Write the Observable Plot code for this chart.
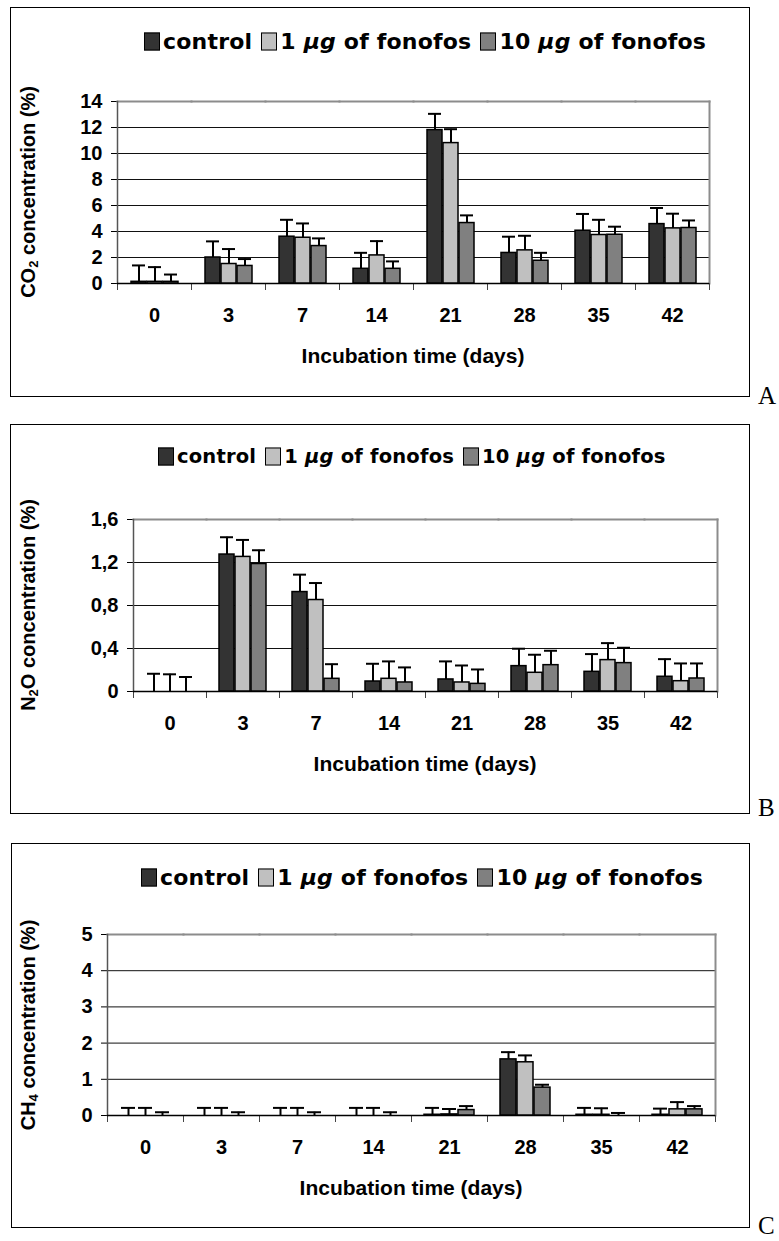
<!DOCTYPE html>
<html><head><meta charset="utf-8">
<script src="https://cdn.jsdelivr.net/npm/d3@7"></script>
<script src="https://cdn.jsdelivr.net/npm/@observablehq/plot@0.6"></script>
<style>
body{margin:0;background:#fff;width:779px;height:1241px;position:relative;overflow:hidden;font-family:"Liberation Sans",Arial,sans-serif;color:#000}
.box{position:absolute;border:1.5px solid #000;box-sizing:border-box}
.legend{position:absolute;display:flex;align-items:center;white-space:nowrap;font-family:"DejaVu Sans",sans-serif;font-weight:bold;font-size:22px;transform:translateY(-50%);letter-spacing:0.2px}
.sw{display:inline-block;width:14px;height:16px;border:1px solid #000;margin-right:3px}
.item{display:inline-flex;align-items:center;margin-right:9px}
.ytitle{position:absolute;font-weight:bold;font-size:20px;transform:translate(-50%,-50%) rotate(-90deg);white-space:nowrap;line-height:1}
.ytitle sub{font-size:13px;vertical-align:-3px}
.xtitle{position:absolute;font-weight:bold;font-size:21px;transform:translate(-50%,-50%);white-space:nowrap;line-height:1}
.letter{position:absolute;font-family:"Liberation Serif","Times New Roman",serif;font-size:25px;line-height:25px}
</style></head><body>
<script>
// ---------- data ----------
const days = ["0", "3", "7", "14", "21", "28", "35", "42"];
const series = ["control", "1 µg of fonofos", "10 µg of fonofos"];
const seriesColors = ["#333333", "#c0c0c0", "#808080"];

// A: CO2 (%)
const co2Control = [0.13, 2.0, 3.6, 1.13, 11.8, 2.35, 4.06, 4.57];
const co2Low     = [0.13, 1.5, 3.52, 2.16, 10.8, 2.55, 3.73, 4.24];
const co2High    = [0.13, 1.35, 2.88, 1.13, 4.65, 1.75, 3.75, 4.27];
const co2ControlErr = [1.26, 1.24, 1.3, 1.23, 1.25, 1.25, 1.29, 1.24];
const co2LowErr     = [1.13, 1.15, 1.1, 1.1, 1.07, 1.12, 1.17, 1.13];
const co2HighErr    = [0.56, 0.53, 0.59, 0.57, 0.59, 0.61, 0.62, 0.58];
const co2Ticks = [0, 2, 4, 6, 8, 10, 12, 14];
const co2TickLabels = ["0", "2", "4", "6", "8", "10", "12", "14"];

// B: N2O (%)
const n2oControl = [0, 1.274, 0.925, 0.093, 0.112, 0.236, 0.183, 0.137];
const n2oLow     = [0, 1.252, 0.851, 0.118, 0.084, 0.174, 0.292, 0.096];
const n2oHigh    = [0, 1.186, 0.118, 0.084, 0.071, 0.245, 0.264, 0.121];
const n2oControlErr = [0.165, 0.161, 0.162, 0.165, 0.168, 0.162, 0.165, 0.164];
const n2oLowErr     = [0.16, 0.158, 0.158, 0.162, 0.158, 0.168, 0.158, 0.165];
const n2oHighErr    = [0.135, 0.128, 0.136, 0.14, 0.134, 0.134, 0.143, 0.14];
const n2oTicks = [0, 0.4, 0.8, 1.2, 1.6];
const n2oTickLabels = ["0", "0,4", "0,8", "1,2", "1,6"];

// C: CH4 (%)
const ch4Control = [0, 0, 0, 0, 0.02, 1.55, 0.02, 0.02];
const ch4Low     = [0, 0, 0, 0, 0.03, 1.47, 0.02, 0.17];
const ch4High    = [0, 0, 0, 0, 0.15, 0.77, 0, 0.17];
const ch4ControlErr = [0.21, 0.21, 0.21, 0.21, 0.19, 0.2, 0.19, 0.17];
const ch4LowErr     = [0.21, 0.21, 0.21, 0.21, 0.15, 0.19, 0.18, 0.2];
const ch4HighErr    = [0.09, 0.09, 0.09, 0.09, 0.11, 0.08, 0.07, 0.09];
const ch4Ticks = [0, 1, 2, 3, 4, 5];
const ch4TickLabels = ["0", "1", "2", "3", "4", "5"];

const xTitle = "Incubation time (days)";

// ---------- layout ----------
const panels = [
  {letter: "A", gas: ["CO", "2"], values: [co2Control, co2Low, co2High], errs: [co2ControlErr, co2LowErr, co2HighErr],
   ticks: co2Ticks, labels: co2TickLabels,
   box: [10, 7, 740, 390], plot: {left: 117, right: 709, top: 101, bottom: 283},
   legend: [144, 41], legendSize: 22, letterPos: [758, 383]},
  {letter: "B", gas: ["N", "2", "O"], values: [n2oControl, n2oLow, n2oHigh], errs: [n2oControlErr, n2oLowErr, n2oHighErr],
   ticks: n2oTicks, labels: n2oTickLabels,
   box: [10, 424, 740, 390], plot: {left: 130, right: 720, top: 519, bottom: 691},
   legend: [158, 456], legendSize: 19.5, letterPos: [758, 795]},
  {letter: "C", gas: ["CH", "4"], values: [ch4Control, ch4Low, ch4High], errs: [ch4ControlErr, ch4LowErr, ch4HighErr],
   ticks: ch4Ticks, labels: ch4TickLabels,
   box: [11, 843, 739, 385], plot: {left: 106, right: 716, top: 934, bottom: 1115},
   legend: [141, 877], legendSize: 22, letterPos: [758, 1213]}
];

function el(tag, cls, parent) { const e = document.createElement(tag); if (cls) e.className = cls; (parent || document.body).appendChild(e); return e; }

for (const p of panels) {
  const b = el("div", "box"); Object.assign(b.style, {left: p.box[0] + "px", top: p.box[1] + "px", width: p.box[2] + "px", height: p.box[3] + "px"});

  const rows = [];
  days.forEach((d, i) => series.forEach((s, k) => rows.push({day: d, series: s, value: p.values[k][i], err: p.errs[k][i]})));

  const mTop = 14, mBottom = 50;
  const plotH = p.plot.bottom - p.plot.top;
  const W = p.plot.right + 20;
  const top = p.ticks[p.ticks.length - 1];
  const chart = Plot.plot({
    width: W, height: mTop + plotH + mBottom,
    marginLeft: p.plot.left, marginRight: W - p.plot.right, marginTop: mTop, marginBottom: mBottom,
    style: {fontFamily: "'Liberation Sans', Arial, sans-serif", fontSize: "20px", fontWeight: "bold", color: "#000", background: "transparent", overflow: "visible"},
    fx: {domain: days, padding: 0, label: null, axis: "bottom", tickSize: 0, tickPadding: 24},
    x: {domain: series, paddingInner: 0.07, paddingOuter: 0.72, axis: null},
    y: {domain: [0, top], ticks: p.ticks, tickFormat: d => p.labels[p.ticks.indexOf(d)], tickSize: 6, tickPadding: 9, label: null},
    color: {domain: series, range: seriesColors},
    marks: [
      Plot.gridY(p.ticks.slice(1, -1), {stroke: "#111", strokeOpacity: 1, strokeWidth: 1}),
      Plot.frame({anchor: "top", stroke: "#8c8c8c", strokeWidth: 2}),
      Plot.frame({anchor: "right", stroke: "#8c8c8c", strokeWidth: 2, fx: days[days.length - 1]}),
      Plot.frame({anchor: "left", stroke: "#555", strokeWidth: 1.5, fx: days[0]}),
      Plot.frame({anchor: "left", stroke: "#444", strokeWidth: 1, insetTop: plotH, insetBottom: -6}),
      Plot.frame({anchor: "right", stroke: "#444", strokeWidth: 1, insetTop: plotH, insetBottom: -6}),
      Plot.ruleY([0], {stroke: "#000", strokeWidth: 1.5}),
      Plot.barY(rows, {fx: "day", x: "series", y: "value", fill: "series", stroke: "#000", strokeWidth: 1.5}),
      Plot.ruleX(rows, {fx: "day", x: "series", y1: "value", y2: d => d.value + d.err, stroke: "#000", strokeWidth: 2}),
      Plot.tickY(rows, {fx: "day", x: "series", y: d => d.value + d.err, stroke: "#000", strokeWidth: 2, insetLeft: 1, insetRight: 1})
    ]
  });
  Object.assign(chart.style, {position: "absolute", left: "0px", top: (p.plot.top - mTop) + "px"});
  document.body.appendChild(chart);

  // legend
  const lg = el("div", "legend"); Object.assign(lg.style, {left: p.legend[0] + "px", top: p.legend[1] + "px", fontSize: p.legendSize + "px"});
  series.forEach((s, k) => {
    const it = el("span", "item", lg);
    const sw = el("span", "sw", it); sw.style.background = seriesColors[k];
    const t = el("span", "", it);
    const m = s.match(/^(.*?)(µg)(.*)$/);
    if (m) { t.append(m[1]); const i = el("i", "", t); i.textContent = m[2]; t.append(m[3]); } else t.textContent = s;
  });

  // y title
  const yt = el("div", "ytitle");
  Object.assign(yt.style, {left: "29px", top: ((p.plot.top + p.plot.bottom) / 2) + "px"});
  yt.append(p.gas[0]); const sub = el("sub", "", yt); sub.textContent = p.gas[1]; yt.append((p.gas[2] || "") + " concentration (%)");

  // x title
  const xt = el("div", "xtitle");
  Object.assign(xt.style, {left: ((p.plot.left + p.plot.right) / 2) + "px", top: (p.plot.bottom + 72) + "px"});
  xt.textContent = xTitle;

  const L = el("div", "letter"); Object.assign(L.style, {left: p.letterPos[0] + "px", top: p.letterPos[1] + "px"}); L.textContent = p.letter;
}
</script>
</body></html>
